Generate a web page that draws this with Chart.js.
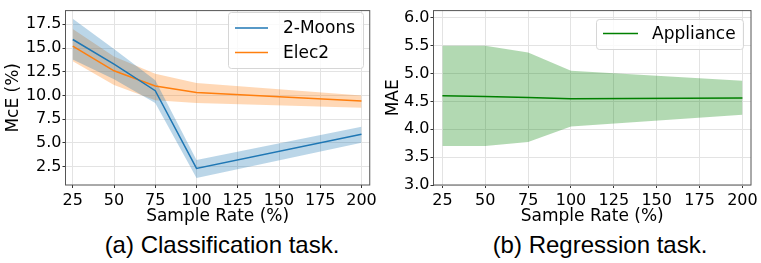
<!DOCTYPE html>
<html lang="en">
<head>
  <meta charset="UTF-8">
  <title>Sample rate study</title>
  <style>
    body {
      margin: 0;
      padding: 0;
      width: 761px;
      height: 263px;
      background: #fff;
      position: relative;
      overflow: hidden;
    }
    .panel {
      position: absolute;
      top: 0;
    }
    #left { left: 0; width: 380px; height: 228px; }
    #right { left: 380px; width: 381px; height: 228px; }
    .caption {
      position: absolute;
      top: 233px;
      width: 360px;
      text-align: center;
      font-family: 'Liberation Sans', Arial, sans-serif;
      font-size: 24px;
      line-height: 24px;
      color: #000;
      white-space: nowrap;
    }
  </style>
</head>
<body>

  <div class="panel" id="left"><canvas id="clsChart"></canvas></div>
  <div class="panel" id="right"><canvas id="regChart"></canvas></div>
  <div class="caption" style="left: 42px;">(a) Classification task.</div>
  <div class="caption" style="left: 420px;">(b) Regression task.</div>

  <script src="https://cdn.jsdelivr.net/npm/chart.js"></script>
  <script>
    // sample rates (%)
    const sampleRates = [25, 50, 75, 100, 200];
    const xTicks = [25, 50, 75, 100, 125, 150, 175, 200];

    // (a) classification, McE (%)
    const moonsMean = [15.9, 13.3, 10.5, 2.3, 5.9];
    const moonsUpper = [18.1, 14.9, 11.6, 3.2, 6.7];
    const moonsLower = [13.8, 11.7, 9.2, 1.3, 5.0];
    const elecMean = [15.2, 12.6, 11.0, 10.3, 9.4];
    const elecUpper = [17.0, 14.1, 12.3, 11.3, 10.0];
    const elecLower = [13.6, 11.1, 9.5, 9.2, 8.7];
    const clsYTicks = [2.5, 5.0, 7.5, 10.0, 12.5, 15.0, 17.5];

    // (b) regression, MAE
    const applMean = [4.60, 4.59, 4.57, 4.55, 4.56];
    const applUpper = [5.50, 5.50, 5.38, 5.05, 4.87];
    const applLower = [3.70, 3.70, 3.77, 4.05, 4.26];
    const regYTicks = [3.0, 3.5, 4.0, 4.5, 5.0, 5.5, 6.0];

    const BLUE = '#1f77b4', ORANGE = '#ff7f0e', GREEN = '#008000';

    Chart.defaults.color = '#000';
    Chart.defaults.font.family = "'DejaVu Sans', sans-serif";

    function pts(ys) {
      return sampleRates.map((x, i) => ({ x: x, y: ys[i] }));
    }

    function band(upper, lower, fill) {
      return [
        { data: pts(upper), fill: '+1', backgroundColor: fill, borderWidth: 0, pointRadius: 0 },
        { data: pts(lower), fill: false, borderWidth: 0, pointRadius: 0 }
      ];
    }

    function line(label, ys, color) {
      return { label: label, data: pts(ys), borderColor: color, borderWidth: 1.5,
               pointRadius: 0, fill: false, tension: 0 };
    }

    // frame round the plot area
    const framePlugin = {
      id: 'frame',
      afterDraw(chart) {
        const a = chart.chartArea, ctx = chart.ctx;
        ctx.save();
        ctx.strokeStyle = '#555';
        ctx.lineWidth = 1;
        ctx.strokeRect(a.left, a.top, a.right - a.left, a.bottom - a.top);
        ctx.restore();
      }
    };

    // matplotlib-like legend box inside the plot
    const boxLegendPlugin = {
      id: 'boxLegend',
      afterDraw(chart, args, opts) {
        if (!opts.box) return;
        const ctx = chart.ctx, b = opts.box;
        ctx.save();
        ctx.beginPath();
        ctx.roundRect(b.x + 0.5, b.y + 0.5, b.w, b.h, 3);
        ctx.fillStyle = 'rgba(255,255,255,0.8)';
        ctx.fill();
        ctx.strokeStyle = '#d6d6d6';
        ctx.lineWidth = 1;
        ctx.stroke();
        ctx.font = "17px 'DejaVu Sans'";
        ctx.textBaseline = 'middle';
        opts.items.forEach((it, i) => {
          const y = b.y + opts.firstRow + i * opts.rowGap;
          ctx.strokeStyle = it.color;
          ctx.lineWidth = 1.5;
          ctx.beginPath();
          ctx.moveTo(b.x + opts.lineStart, y);
          ctx.lineTo(b.x + opts.lineStart + opts.lineLen, y);
          ctx.stroke();
          ctx.fillStyle = '#000';
          ctx.fillText(it.label, b.x + opts.textStart, y + 1);
        });
        ctx.restore();
      }
    };

    function scales(xMin, xMax, yMin, yMax, yTicks, yTitle, yWidth) {
      return {
        x: {
          type: 'linear', min: xMin, max: xMax,
          afterBuildTicks: s => { s.ticks = xTicks.map(v => ({ value: v })); },
          afterFit: s => { s.height = 43; },
          ticks: { font: { size: 16 }, padding: 3, maxRotation: 0, autoSkip: false },
          grid: { color: '#e3e3e3', tickLength: 3, tickColor: '#333' },
          border: { display: false },
          title: { display: true, text: 'Sample Rate (%)', font: { size: 17 },
                   padding: { top: 0, bottom: 1 } }
        },
        y: {
          min: yMin, max: yMax,
          afterBuildTicks: s => { s.ticks = yTicks.map(v => ({ value: v })); },
          afterFit: s => { s.width = yWidth; },
          ticks: { font: { size: 16 }, padding: 1, callback: v => v.toFixed(1) },
          grid: { color: '#e3e3e3', tickLength: 3, tickColor: '#333' },
          border: { display: false },
          title: { display: true, text: yTitle, font: { size: 17 },
                   padding: { top: 3, bottom: 0 } }
        }
      };
    }

    function baseOptions() {
      return {
        responsive: true,
        maintainAspectRatio: false,
        animation: false,
        events: [],
        plugins: {
          legend: { display: false },
          tooltip: { enabled: false },
          filler: { drawTime: 'beforeDatasetsDraw' }
        }
      };
    }

    // (a) classification
    const clsOpts = baseOptions();
    clsOpts.layout = { padding: { top: 5, right: 8.5, left: 0, bottom: 0 } };
    clsOpts.scales = scales(20.6, 205, 0.55, 18.95, clsYTicks, 'McE (%)', 65.5);
    clsOpts.plugins.boxLegend = {
      box: { x: 228, y: 12, w: 135, h: 56 },
      firstRow: 16, rowGap: 24.5, lineStart: 7, lineLen: 33, textStart: 55,
      items: [{ label: '2-Moons', color: BLUE }, { label: 'Elec2', color: ORANGE }]
    };

    new Chart(document.getElementById('clsChart'), {
      type: 'line',
      data: {
        datasets: [
          line('2-Moons', moonsMean, BLUE),
          line('Elec2', elecMean, ORANGE),
          ...band(moonsUpper, moonsLower, 'rgba(31,119,180,0.3)'),
          ...band(elecUpper, elecLower, 'rgba(255,127,14,0.3)')
        ]
      },
      options: clsOpts,
      plugins: [framePlugin, boxLegendPlugin]
    });

    // (b) regression
    const regOpts = baseOptions();
    regOpts.layout = { padding: { top: 5, right: 10, left: 0, bottom: 0 } };
    regOpts.scales = scales(19.8, 205, 3.0, 6.13, regYTicks, 'MAE', 53.5);
    regOpts.plugins.boxLegend = {
      box: { x: 216, y: 19, w: 147, h: 30 },
      firstRow: 14.5, rowGap: 0, lineStart: 7, lineLen: 35, textStart: 56,
      items: [{ label: 'Appliance', color: GREEN }]
    };

    new Chart(document.getElementById('regChart'), {
      type: 'line',
      data: {
        datasets: [
          line('Appliance', applMean, GREEN),
          ...band(applUpper, applLower, 'rgba(0,128,0,0.3)')
        ]
      },
      options: regOpts,
      plugins: [framePlugin, boxLegendPlugin]
    });
  </script>

</body>
</html>
